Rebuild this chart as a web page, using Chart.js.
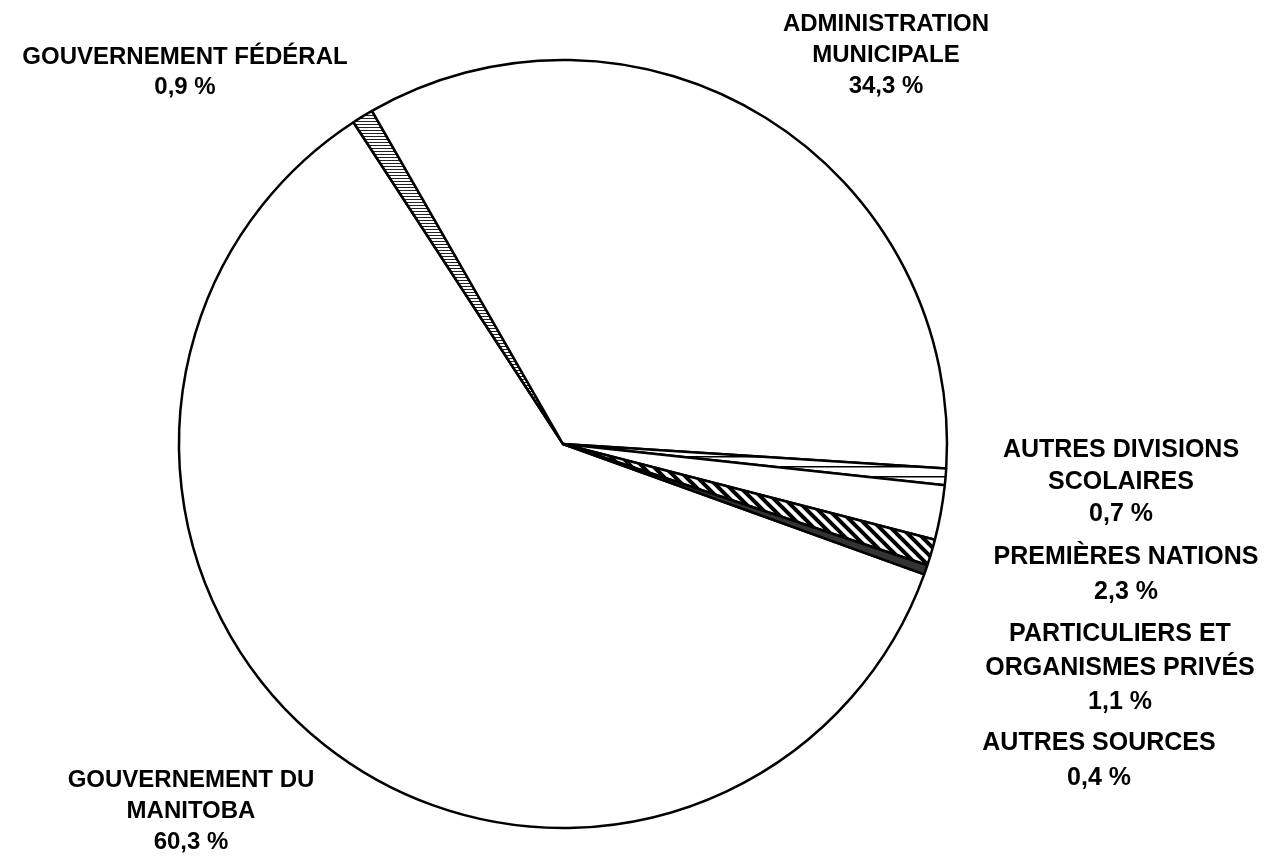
<!DOCTYPE html>
<html><head><meta charset="utf-8">
<script src="https://cdn.jsdelivr.net/npm/chart.js@4/dist/chart.umd.min.js"></script>
<style>html,body{margin:0;padding:0;background:#fff;overflow:hidden}#wrap{width:1268px;height:856px}</style>
</head><body><div id="wrap"><canvas id="c" width="1268" height="856"></canvas></div>
<script>
// ---- data ----
const categories = [
  ["GOUVERNEMENT DU", "MANITOBA"],
  ["GOUVERNEMENT FÉDÉRAL"],
  ["ADMINISTRATION", "MUNICIPALE"],
  ["AUTRES DIVISIONS", "SCOLAIRES"],
  ["PREMIÈRES NATIONS"],
  ["PARTICULIERS ET", "ORGANISMES PRIVÉS"],
  ["AUTRES SOURCES"]
];
const shares = [60.3, 0.9, 34.3, 0.7, 2.3, 1.1, 0.4];
const valueLabels = shares.map(v => v.toFixed(1).replace('.', ',') + ' %');

// ---- label layout (center x, first baseline y, line height, font size) ----
const labelLayout = [
  {x: 191, y: 787, lh: 31, fs: 24},
  {x: 185, y: 64, lh: 30, fs: 24},
  {x: 886, y: 31, lh: 31, fs: 24},
  {x: 1121, y: 457, lh: 32, fs: 25},
  {x: 1126, y: 564, lh: 35, fs: 25},
  {x: 1120, y: 641, lh: 34, fs: 25},
  {x: 1099, y: 750, lh: 35, fs: 25}
];

const ctx0 = document.getElementById('c').getContext('2d');
function pat(w, h, draw) {
  const c = document.createElement('canvas');
  c.width = w; c.height = h;
  const g = c.getContext('2d');
  g.fillStyle = '#fff'; g.fillRect(0, 0, w, h);
  draw(g, w, h);
  return ctx0.createPattern(c, 'repeat');
}
const fedPattern = pat(3, 3, (g) => { g.fillStyle = '#222'; g.fillRect(0, 1, 3, 1); });
const divPattern = pat(10, 10, (g) => { g.fillStyle = '#000'; g.fillRect(0, 6, 10, 1.5); });
const privPattern = pat(11, 11, (g, w, h) => {
  g.strokeStyle = '#000'; g.lineWidth = 4;
  g.beginPath();
  g.moveTo(-2, -2); g.lineTo(w + 2, h + 2);
  g.moveTo(-w / 2 - 2, h / 2 - 2); g.lineTo(w / 2 + 2, h * 1.5 + 2);
  g.moveTo(w / 2 - 2, -h / 2 - 2); g.lineTo(w * 1.5 + 2, h / 2 + 2);
  g.stroke();
});
const fills = ['#ffffff', fedPattern, '#ffffff', divPattern, '#ffffff', privPattern, '#333333'];

const labelPlugin = {
  id: 'labels',
  afterDraw(chart) {
    const c = chart.ctx;
    c.save();
    c.fillStyle = '#000';
    c.textAlign = 'center';
    c.textBaseline = 'alphabetic';
    categories.forEach((lines, i) => {
      const all = lines.concat([valueLabels[i]]);
      const L = labelLayout[i];
      c.font = 'bold ' + L.fs + 'px "Liberation Sans", Arial, sans-serif';
      all.forEach((t, k) => c.fillText(t, L.x, L.y + k * L.lh));
    });
    c.restore();
  }
};

new Chart(document.getElementById('c'), {
  type: 'pie',
  data: {
    labels: categories.map(l => l.join(' ')),
    datasets: [{
      data: shares,
      backgroundColor: fills,
      borderColor: '#000',
      borderWidth: 2.5
    }]
  },
  options: {
    responsive: false,
    animation: false,
    devicePixelRatio: 1,
    rotation: 109.85,
    radius: 384,
    layout: {padding: {left: 0, right: 142, top: 32, bottom: 0}},
    plugins: {legend: {display: false}, tooltip: {enabled: false}}
  },
  plugins: [labelPlugin]
});
</script>
</body></html>
